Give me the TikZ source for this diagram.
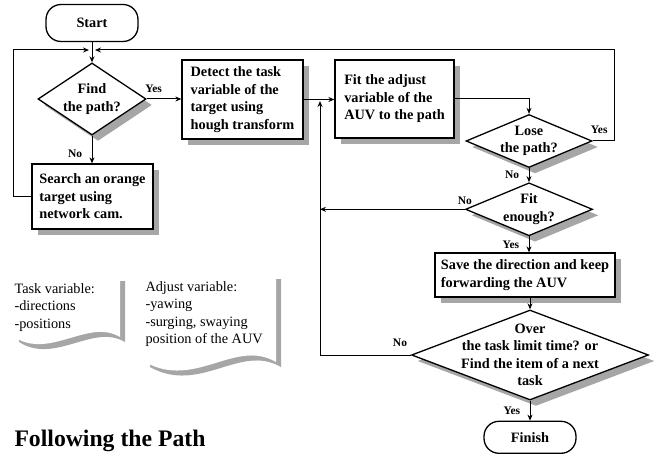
\documentclass[tikz,border=0pt]{standalone}
\usepackage{fontspec}
\setmainfont{Liberation Serif}
\usetikzlibrary{arrows.meta,positioning,shapes.geometric,shadows}

\begin{document}
\begin{tikzpicture}[
        ->,
        >={Stealth[length=6pt,width=5pt]}, % arrow head style
        line width=1pt,
        x=1pt, y=-1pt,
        font=\bfseries\fontsize{14.3}{17.5}\selectfont]

        \tikzset{shdw/.style={drop shadow={shadow xshift=6pt, shadow yshift=-6pt, fill=black!35, opacity=1}}}
        \tikzstyle{box}=[
            rectangle,
            draw = black,
            fill = white,
            line width=1.3pt,
            align=left,
            shdw
        ]
        \tikzstyle{dec}=[
            diamond,
            draw = black,
            fill = white,
            line width=1.3pt,
            inner sep=0pt,
            shdw
        ]
        \tikzstyle{term}=[
            rectangle,
            draw = black,
            fill = white,
            line width=1.3pt,
            rounded corners=15pt,
            minimum width=92pt
        ]
        \tikzset{l/.style={font=\bfseries\fontsize{11.5}{13}\selectfont}}
        \tikzset{note/.style={font=\mdseries\fontsize{14.3}{17.3}\selectfont, align=left, inner sep=0pt, anchor=north west}}

        \useasboundingbox (0,0) rectangle (658,454);

        % flow
        \node[term, minimum height=37pt] (start) at (92,23) {Start};
        \coordinate (merge) at (92,50);
        \node[dec, minimum width=108pt, minimum height=72pt,
            label={[align=center]center:Find\\the path?}] (find) at (92,99) {};
        \node[box, minimum width=121pt, minimum height=79pt] (detect) at (242.5,99.5)
            {Detect the task\\variable of the\\target using\\hough transform};
        \node[box, minimum width=121pt, minimum height=65pt] (search) at (92.5,196.5)
            {Search an orange\\target using\\network cam.};
        \node[box, minimum width=119pt, minimum height=78pt] (fit) at (394.5,99)
            {Fit the adjust\\variable of the\\AUV to the path};
        \node[dec, minimum width=126pt, minimum height=53pt,
            label={[align=center]center:Lose\\the path?}] (lose) at (529,141) {};
        \node[dec, minimum width=127pt, minimum height=53pt,
            label={[align=center]center:Fit\\enough?}] (fitok) [below=14pt of lose] {};
        \node[box, minimum width=180pt, minimum height=44pt] (save) at (525,275)
            {Save the direction and keep\\forwarding the AUV};
        \node[dec, minimum width=237pt, minimum height=90pt,
            label={[align=center]center:Over\\the task limit time? or\\Find the item of a next\\task}] (over) at (530,355) {};
        \node[term, minimum height=32pt] (finish) [below=20pt of over] {Finish};
        \coordinate (jn) at (320,208);
        \coordinate (back) at (320,99);

        \draw (start) -- (find);
        \draw (find.east) -- node[l, above=3pt, pos=0.2] {Yes} (find.east -| detect.west);
        \draw (find.south) -- node[l, left=6pt, pos=0.65] {No} (find.south |- search.north);
        \draw[shorten >=3pt] (search.west) -- ++(-18,0) |- (merge);
        \draw (detect.east) -- (detect.east -| fit.west);
        \draw (fit.east) -| (lose.north);
        \draw[shorten >=3pt] (lose.east) -- node[l, above=4pt, pos=0.3] {Yes} ++(22,0) |- (merge);
        \draw (lose) -- node[l, left=6pt] {No} (fitok);
        \draw (fitok.west) -- node[l, above=1pt, pos=0] {No} (fitok.west -| jn);
        \draw (fitok.south) -- node[l, left=6pt] {Yes} (fitok.south |- save.north);
        \draw (save.south -| over.north) -- (over.north);
        \draw[shorten >=2pt] (over.west) -| node[l, above left=5pt and 0pt, pos=0] {No} (back);
        \draw (over) -- node[l, left=6pt] {Yes} (finish);

        % notes
        \fill[black!35] (20,281) -- (125,281) -- (125,342)
            .. controls (93,323) and (55,365) .. (19,342) -- cycle;
        \fill[white] (14,281) -- (120,281) -- (120,337)
            .. controls (88,318) and (50,360) .. (14,337) -- cycle;
        \node[note] (taskv) at (14,283) {Task variable:\\-directions\\-positions};
        \fill[black!35] (150,279) -- (281,279) -- (281,367)
            .. controls (240,343) and (200,395) .. (150,367) -- cycle;
        \fill[white] (145,279) -- (276,279) -- (276,362)
            .. controls (235,338) and (195,390) .. (145,362) -- cycle;
        \node[note] (adjv) at (145,281) {Adjust variable:\\-yawing\\-surging, swaying\\position of the AUV};

        \node[anchor=west, inner sep=0pt, font=\bfseries\fontsize{23.7}{28}\selectfont] (title) at (14,441) {Following the Path};
\end{tikzpicture}
\end{document}
